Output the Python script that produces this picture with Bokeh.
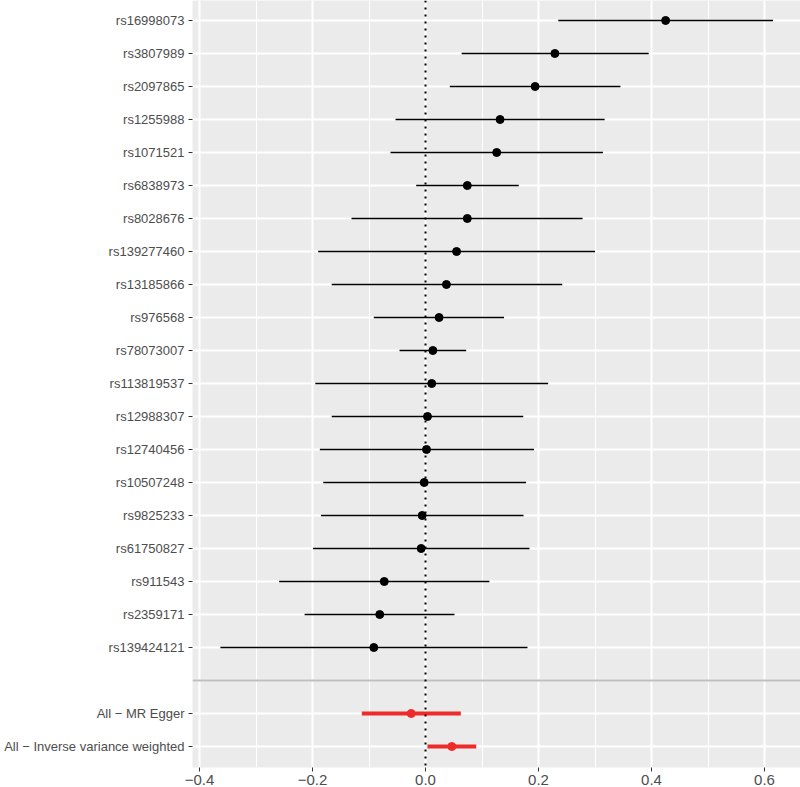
from bokeh.plotting import figure
from bokeh.models import Range1d, FixedTicker, Span
from bokeh.embed import file_html
from bokeh.resources import INLINE

# ---- data ----
snps = ["rs16998073", "rs3807989", "rs2097865", "rs1255988", "rs1071521",
        "rs6838973", "rs8028676", "rs139277460", "rs13185866", "rs976568",
        "rs78073007", "rs113819537", "rs12988307", "rs12740456", "rs10507248",
        "rs9825233", "rs61750827", "rs911543", "rs2359171", "rs139424121"]
snp_b = [0.425, 0.229, 0.194, 0.132, 0.126, 0.074, 0.074, 0.055, 0.037, 0.024,
         0.013, 0.011, 0.0035, 0.0018, -0.0023, -0.0059, -0.0077, -0.073, -0.081, -0.0915]
snp_lo = [0.235, 0.064, 0.043, -0.053, -0.062, -0.0165, -0.131, -0.190, -0.166, -0.0915,
          -0.046, -0.195, -0.166, -0.187, -0.181, -0.185, -0.199, -0.259, -0.214, -0.363]
snp_hi = [0.615, 0.395, 0.345, 0.317, 0.314, 0.165, 0.278, 0.300, 0.242, 0.139,
          0.072, 0.217, 0.173, 0.192, 0.178, 0.1735, 0.184, 0.113, 0.0513, 0.1805]

methods = ["All \u2212 MR Egger", "All \u2212 Inverse variance weighted"]
meth_b = [-0.0253, 0.0466]
meth_lo = [-0.1127, 0.0035]
meth_hi = [0.0625, 0.0897]

x_ticks = [-0.4, -0.2, 0.0, 0.2, 0.4, 0.6]
x_tick_labels = ["\u22120.4", "\u22120.2", "0.0", "0.2", "0.4", "0.6"]
x_minor = [-0.3, -0.1, 0.1, 0.3, 0.5]

# ---- positions (row index from top) ----
n = len(snps)
snp_y = list(range(1, n + 1))
blank_y = n + 1
meth_y = [n + 2, n + 3]
labels = {i: s for i, s in zip(snp_y, snps)}
for yy, m in zip(meth_y, methods):
    labels[yy] = m
label_ticks = list(labels.keys())
grid_ticks = label_ticks + [blank_y]

FONT = "Liberation Sans"

p = figure(width=800, height=787, output_backend="svg", toolbar_location=None,
           x_range=Range1d(-0.4124, 0.6637),
           y_range=Range1d(23.636, 0.394),
           min_border_left=192, min_border_right=0, min_border_top=0,
           min_border_bottom=20)

p.background_fill_color = "#EBEBEB"
p.border_fill_color = "white"
p.outline_line_color = None

# grids
p.xgrid.ticker = FixedTicker(ticks=x_ticks, minor_ticks=x_minor)
p.xgrid.grid_line_color = "white"
p.xgrid.grid_line_width = 2
p.xgrid.minor_grid_line_color = "white"
p.xgrid.minor_grid_line_width = 1
p.ygrid.ticker = FixedTicker(ticks=grid_ticks)
p.ygrid.grid_line_color = "white"
p.ygrid.grid_line_width = 2

# axes
p.xaxis.ticker = FixedTicker(ticks=x_ticks, minor_ticks=[])
p.xaxis.major_label_overrides = {t: l for t, l in zip(x_ticks, x_tick_labels)}
p.yaxis.ticker = FixedTicker(ticks=label_ticks)
p.yaxis.major_label_overrides = labels
for ax in (p.xaxis, p.yaxis):
    ax.axis_line_color = None
    ax.major_tick_line_color = "#333333"
    ax.major_tick_line_width = 1
    ax.major_tick_out = 4
    ax.major_tick_in = 0
    ax.minor_tick_line_color = None
    ax.major_label_text_font = FONT
    ax.major_label_text_color = "#4D4D4D"
p.yaxis.major_label_text_font_size = "13px"
p.xaxis.major_label_text_font_size = "15px"
p.xaxis.major_label_standoff = 3
p.yaxis.major_label_standoff = 4

# separator line at blank row
p.add_layout(Span(location=blank_y, dimension="width", line_color="#BEBEBE",
                  line_width=2))
# dotted zero line
p.add_layout(Span(location=0, dimension="height", line_color="black",
                  line_width=2, line_dash="2 5"))

# SNP estimates
p.segment(x0=snp_lo, x1=snp_hi, y0=snp_y, y1=snp_y, line_color="black",
          line_width=1.3)
p.scatter(x=snp_b, y=snp_y, size=8, fill_color="black", line_color="black")

# summary estimates
RED = "#EF2A2A"
p.segment(x0=meth_lo, x1=meth_hi, y0=meth_y, y1=meth_y, line_color=RED,
          line_width=4)
p.scatter(x=meth_b, y=meth_y, size=8, fill_color=RED, line_color=RED)

open("out.html", "w").write(file_html(p, INLINE))
